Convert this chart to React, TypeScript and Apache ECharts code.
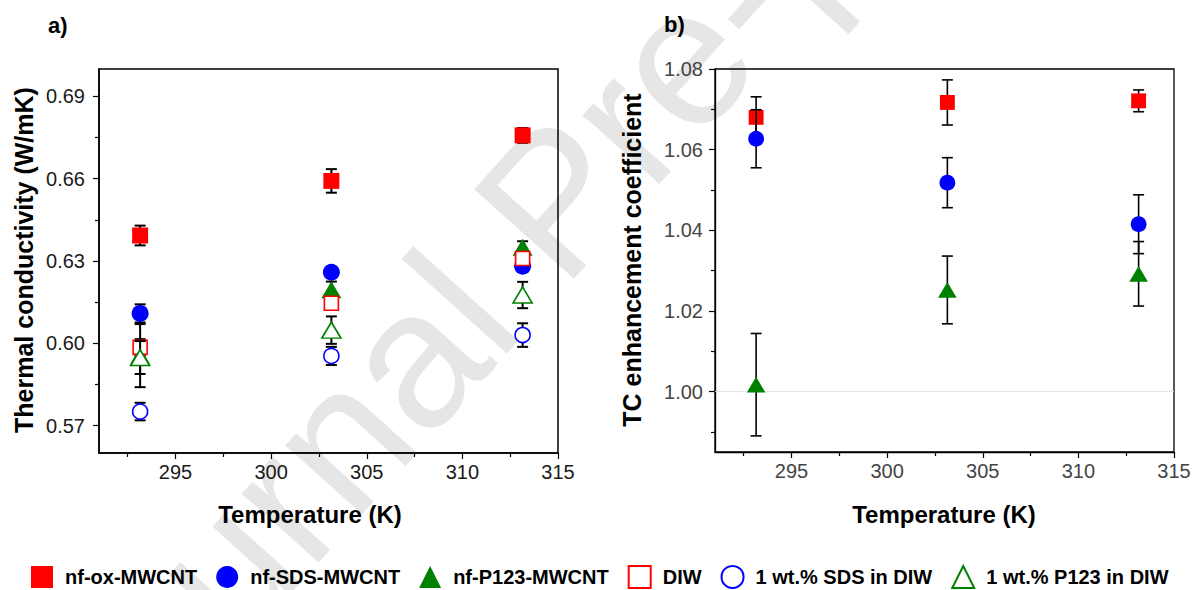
import React, { useEffect, useRef } from "react";
import * as echarts from "echarts";

// ---------- data ----------
const temperatures = [293.15, 303.15, 313.15];

const seriesNames = [
  "nf-ox-MWCNT",
  "nf-SDS-MWCNT",
  "nf-P123-MWCNT",
  "DIW",
  "1 wt.% SDS in DIW",
  "1 wt.% P123 in DIW",
];

// panel a) thermal conductivity (W/mK) and error
const tcOx = [0.6393, 0.6592, 0.6758];
const tcOxErr = [0.0036, 0.0043, 0.0027];
const tcSds = [0.6109, 0.6259, 0.6281];
const tcSdsErr = [0.0033, 0.002, 0.002];
const tcP123 = [0.5955, 0.6195, 0.635];
const tcP123Err = [0.0115, 0.003, 0.0022];
const tcDiw = [0.5985, 0.6146, 0.6309];
const tcDiwErr = [0.003, 0.002, 0.002];
const tcSdsDiw = [0.5751, 0.5954, 0.603];
const tcSdsDiwErr = [0.0032, 0.0033, 0.0043];
const tcP123Diw = [0.5948, 0.6048, 0.6176];
const tcP123DiwErr = [0.006, 0.005, 0.0048];

// panel b) TC enhancement coefficient and error
const enhOx = [1.068, 1.0717, 1.0721];
const enhOxErr = [0.0051, 0.0056, 0.0027];
const enhSds = [1.0627, 1.0518, 1.0415];
const enhSdsErr = [0.0072, 0.0062, 0.0073];
const enhP123 = [1.0017, 1.0252, 1.0292];
const enhP123Err = [0.0127, 0.0084, 0.008];

// ticks
const xMajorTicks = [295, 300, 305, 310, 315];
const xMinorTicks = [292.5, 297.5, 302.5, 307.5, 312.5];
const aMajorTicks = [0.57, 0.6, 0.63, 0.66, 0.69];
const aMinorTicks = [0.585, 0.615, 0.645, 0.675];
const bMajorTicks = [1.0, 1.02, 1.04, 1.06, 1.08];
const bMinorTicks = [0.99, 1.01, 1.03, 1.05, 1.07];

// ---------- styles ----------
const FONT = "'Liberation Sans', Arial, Helvetica, sans-serif";
const RED = "#ff0000";
const BLUE = "#0000ff";
const GREEN = "#008000";

type Mark = {
  symbol: string;
  size: number | number[];
  fill: string;
  border: string;
  borderWidth: number;
};

const marks: Mark[] = [
  { symbol: "rect", size: 16, fill: RED, border: RED, borderWidth: 0 },
  { symbol: "circle", size: 17, fill: BLUE, border: BLUE, borderWidth: 0 },
  { symbol: "triangle", size: [20, 17], fill: GREEN, border: GREEN, borderWidth: 0 },
  { symbol: "rect", size: 14, fill: "#ffffff", border: RED, borderWidth: 1.6 },
  { symbol: "circle", size: 15, fill: "#ffffff", border: BLUE, borderWidth: 1.6 },
  { symbol: "triangle", size: [19, 16], fill: "#ffffff", border: GREEN, borderWidth: 1.6 },
];

function errorBars(
  id: string,
  axis: number,
  vals: number[],
  errs: number[],
  lw: number,
  cap: number,
  z: number
) {
  return {
    type: "custom",
    id,
    name: id,
    xAxisIndex: axis,
    yAxisIndex: axis,
    silent: true,
    z,
    data: temperatures.map((t, i) => [t, vals[i] - errs[i], vals[i] + errs[i]]),
    encode: { x: 0, y: [1, 2] },
    renderItem: (_params: any, api: any) => {
      const x = api.value(0);
      const top = api.coord([x, api.value(2)]);
      const bot = api.coord([x, api.value(1)]);
      const hw = cap / 2;
      const st = { stroke: "#000", lineWidth: lw };
      return {
        type: "group",
        children: [
          { type: "line", shape: { x1: top[0], y1: top[1], x2: bot[0], y2: bot[1] }, style: st },
          { type: "line", shape: { x1: top[0] - hw, y1: top[1], x2: top[0] + hw, y2: top[1] }, style: st },
          { type: "line", shape: { x1: bot[0] - hw, y1: bot[1], x2: bot[0] + hw, y2: bot[1] }, style: st },
        ],
      };
    },
  };
}

function scatter(k: number, axis: number, vals: number[], z: number, scale = 1) {
  const m = marks[k];
  const size = Array.isArray(m.size) ? m.size.map((s) => s * scale) : m.size * scale;
  return {
    type: "scatter",
    name: seriesNames[k],
    xAxisIndex: axis,
    yAxisIndex: axis,
    symbol: m.symbol,
    symbolSize: size,
    z,
    itemStyle: {
      color: m.fill,
      borderColor: m.border,
      borderWidth: m.borderWidth,
      opacity: 1,
    },
    data: temperatures.map((t, i) => [t, vals[i]]),
  };
}

function xAxes(grid: number, labelColor: string, lineW: number) {
  return [
    {
      gridIndex: grid,
      type: "value",
      min: 291,
      max: 315,
      position: "bottom",
      axisLine: { show: true, onZero: false, lineStyle: { color: "#000", width: lineW } },
      axisTick: { show: true, customValues: xMajorTicks, length: 6, lineStyle: { color: "#000", width: 1.2 } },
      axisLabel: {
        customValues: xMajorTicks,
        margin: 9,
        fontSize: 20,
        color: labelColor,
        fontFamily: FONT,
        formatter: (v: number) => String(Math.round(v)),
      },
      splitLine: { show: false },
    },
    {
      gridIndex: grid,
      type: "value",
      min: 291,
      max: 315,
      position: "bottom",
      axisLine: { show: false, onZero: false },
      axisTick: { show: true, customValues: xMinorTicks, length: 4, lineStyle: { color: "#000", width: 1.2 } },
      axisLabel: { show: false },
      splitLine: { show: false },
    },
  ];
}

function yAxes(
  grid: number,
  min: number,
  max: number,
  major: number[],
  minor: number[],
  labelColor: string,
  lineW: number,
  margin: number
) {
  return [
    {
      gridIndex: grid,
      type: "value",
      min,
      max,
      position: "left",
      axisLine: { show: true, onZero: false, lineStyle: { color: "#000", width: lineW } },
      axisTick: { show: true, customValues: major, length: 6, lineStyle: { color: "#000", width: 1.2 } },
      axisLabel: {
        customValues: major,
        margin,
        fontSize: 20,
        color: labelColor,
        fontFamily: FONT,
        formatter: (v: number) => v.toFixed(2),
      },
      splitLine: { show: false },
    },
    {
      gridIndex: grid,
      type: "value",
      min,
      max,
      position: "left",
      axisLine: { show: false, onZero: false },
      axisTick: { show: true, customValues: minor, length: 4, lineStyle: { color: "#000", width: 1.2 } },
      axisLabel: { show: false },
      splitLine: { show: false },
    },
  ];
}

export default function App() {
  const ref = useRef<HTMLDivElement>(null);

  useEffect(() => {
    document.body.style.margin = "0";
    if (!ref.current) return;
    const chart = echarts.init(ref.current, undefined, { renderer: "svg" });

    const aVals = [tcOx, tcSds, tcP123, tcDiw, tcSdsDiw, tcP123Diw];
    const aErrs = [tcOxErr, tcSdsErr, tcP123Err, tcDiwErr, tcSdsDiwErr, tcP123DiwErr];
    const bVals = [enhOx, enhSds, enhP123];
    const bErrs = [enhOxErr, enhSdsErr, enhP123Err];

    const series: any[] = [];
    let z = 10;
    aVals.forEach((v, k) => {
      series.push(errorBars("errA" + k, 0, v, aErrs[k], 2, 11, z++));
      series.push(scatter(k, 0, v, z++));
    });
    bVals.forEach((v, k) => {
      series.push(errorBars("errB" + k, 2, v, bErrs[k], 1.6, 11, z++));
      series.push(scatter(k, 2, v, z++, 0.93));
    });
    // dotted reference line at 1.00 in panel b
    series.push({
      type: "line",
      name: "ref",
      xAxisIndex: 2,
      yAxisIndex: 2,
      data: [],
      silent: true,
      z: 5,
      markLine: {
        silent: true,
        symbol: "none",
        label: { show: false },
        lineStyle: { color: "#d0d0d0", type: "dotted", width: 1 },
        data: [{ yAxis: 1.0 }],
      },
    });

    const titleStyle = { fontFamily: FONT, fontWeight: "bold", fill: "#000" };
    const wmAngle = (48 * Math.PI) / 180;

    chart.setOption({
      animation: false,
      backgroundColor: "#ffffff",
      grid: [
        { left: 99, top: 69, width: 459, height: 384, show: true, borderColor: "#000", borderWidth: 1.5, backgroundColor: "transparent", outerBoundsMode: "none" },
        { left: 715, top: 69, width: 459, height: 383, show: true, borderColor: "#000", borderWidth: 1.3, backgroundColor: "transparent", outerBoundsMode: "none" },
      ],
      xAxis: [...xAxes(0, "#1a1a1a", 1.5), ...xAxes(1, "#444", 1.3)],
      yAxis: [
        ...yAxes(0, 0.56, 0.7, aMajorTicks, aMinorTicks, "#1a1a1a", 1.5, 14),
        ...yAxes(1, 0.985, 1.08, bMajorTicks, bMinorTicks, "#444", 1.3, 12),
      ],
      legend: {
        data: seriesNames,
        left: 26,
        top: 560,
        itemWidth: 22,
        itemHeight: 22,
        itemGap: 19,
        textStyle: { fontSize: 20, fontWeight: "bold", color: "#000", fontFamily: FONT, padding: [0, 0, 0, 7] },
        selectedMode: false,
      },
      graphic: [
        {
          type: "text",
          x: 49,
          y: 761,
          rotation: wmAngle,
          z: -10,
          silent: true,
          style: {
            text: "Journal Pre-proof",
            fontSize: 195,
            fontFamily: FONT,
            fill: "#e6e6e6",
            textAlign: "left",
            textVerticalAlign: "middle",
          },
        },
        { type: "text", left: 48, top: 14, style: { ...titleStyle, text: "a)", fontSize: 22 } },
        { type: "text", left: 664, top: 13, style: { ...titleStyle, text: "b)", fontSize: 22 } },
        { type: "text", x: 310, y: 514, style: { ...titleStyle, text: "Temperature (K)", fontSize: 24, textAlign: "center", textVerticalAlign: "middle" } },
        { type: "text", x: 944, y: 514, style: { ...titleStyle, text: "Temperature (K)", fontSize: 24, textAlign: "center", textVerticalAlign: "middle" } },
        { type: "text", x: 24, y: 260, rotation: Math.PI / 2, style: { ...titleStyle, text: "Thermal conductivity (W/mK)", fontSize: 25, textAlign: "center", textVerticalAlign: "middle" } },
        { type: "text", x: 632, y: 260, rotation: Math.PI / 2, style: { ...titleStyle, text: "TC enhancement coefficient", fontSize: 25, textAlign: "center", textVerticalAlign: "middle" } },
      ],
      series,
    });

    return () => chart.dispose();
  }, []);

  return <div ref={ref} style={{ width: 1201, height: 590 }} />;
}
